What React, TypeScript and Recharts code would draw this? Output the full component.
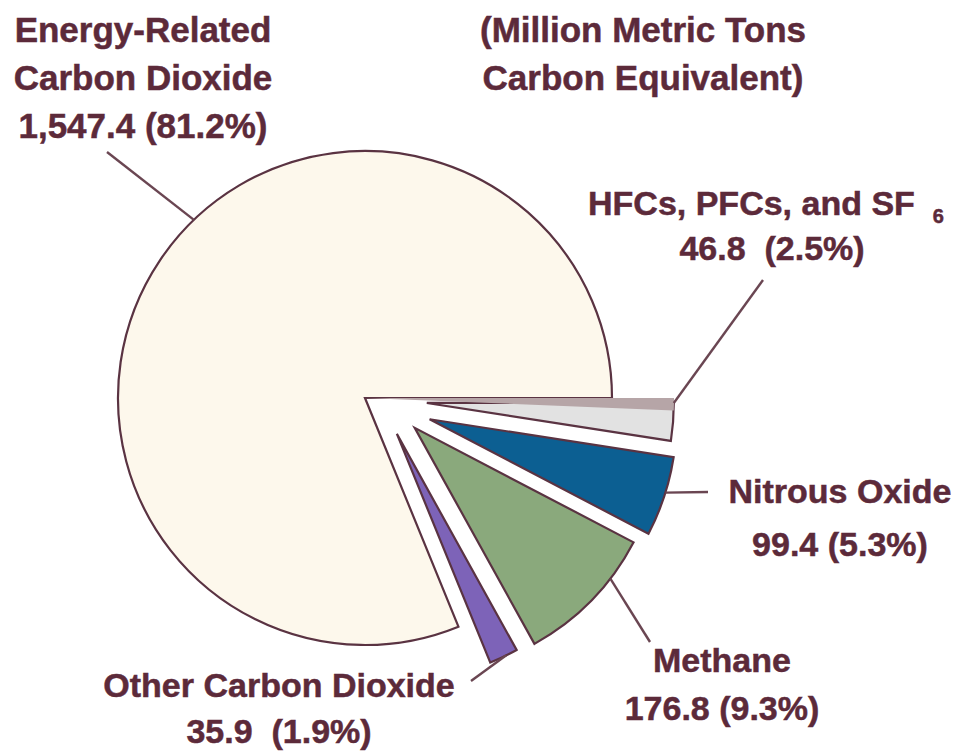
import React from 'react';
import { PieChart, Pie, Cell, Sector } from 'recharts';

// greenhouse gas emissions, million metric tons carbon equivalent
const categories = [
  'Energy-Related Carbon Dioxide',
  'Other Carbon Dioxide',
  'Methane',
  'Nitrous Oxide',
  'HFCs, PFCs, and SF6',
];
const values = [1547.4, 35.9, 176.8, 99.4, 46.8];
const valueLabels = ['1,547.4 (81.2%)', '35.9  (1.9%)', '176.8 (9.3%)', '99.4 (5.3%)', '46.8  (2.5%)'];

const data = categories.map((name, i) => ({ name, value: values[i] }));

const FILLS = ['#fdf8ec', '#7d63b8', '#8aa97c', '#0c5f92', '#e2e2e2'];
// how far each slice is pulled out, and in which direction (degrees, recharts convention)
const EXPLODE_DIST = [0, 48, 58, 68, 62];
const EXPLODE_DIR = [0, 311.6, 329, 341.8, 355.4];
const TEXT = '#5c2a3a';
const EDGE = '#5a3342';
const FONT = "'Liberation Sans', Arial, sans-serif";
const RAD = Math.PI / 180;

// label blocks: text anchor (centre x, first baseline), where the leader starts on the arc
// (fraction of the slice's sweep) and where it ends near the text
const LABELS = [
  { lines: ['Energy-Related', 'Carbon Dioxide'], x: 143, y: 42, size: 35, gap: 48, at: 0.458, lx: 107, ly: 152 },
  { lines: ['Other Carbon Dioxide'], x: 279, y: 697, size: 34, gap: 46, at: 0.6, lx: 471, ly: 681 },
  { lines: ['Methane'], x: 722, y: 672, size: 34, gap: 48, at: 0.7, lx: 650, ly: 642 },
  { lines: ['Nitrous Oxide'], x: 840, y: 503, size: 34, gap: 53, at: 0.55, lx: 708, ly: 492 },
  { lines: ['HFCs, PFCs, and SF'], x: 772, y: 215, size: 34, gap: 45, at: 1, lx: 763, ly: 280, sub: '6' },
];

const offsetOf = (p: any, i: number) => {
  const d = EXPLODE_DIST[i] || 0;
  const m = EXPLODE_DIR[i] * RAD;
  return { x: p.cx + d * Math.cos(m), y: p.cy - d * Math.sin(m) };
};

const indexOf = (p: any) => {
  const n = p.name ?? p.payload?.name;
  return Math.max(0, categories.indexOf(n));
};

const renderSlice = (p: any) => {
  const i = indexOf(p);
  const o = offsetOf(p, i);
  return (
    <g>
      <Sector
        cx={o.x}
        cy={o.y}
        innerRadius={0}
        outerRadius={p.outerRadius}
        startAngle={p.startAngle}
        endAngle={p.endAngle}
        fill={FILLS[i]}
        stroke={EDGE}
        strokeWidth={2.2}
      />
      {i === 4 && (
        <Sector
          cx={p.cx}
          cy={p.cy}
          innerRadius={0}
          outerRadius={p.outerRadius + EXPLODE_DIST[4]}
          startAngle={p.endAngle - 2.3}
          endAngle={p.endAngle}
          fill="#b6a5a7"
          stroke="none"
        />
      )}
    </g>
  );
};

const renderLabel = (p: any) => {
  const i = p.index;
  const L = LABELS[i];
  const o = offsetOf(p, i);
  const a = (p.startAngle + (p.endAngle - p.startAngle) * L.at) * RAD;
  const x1 = o.x + p.outerRadius * Math.cos(a);
  const y1 = o.y - p.outerRadius * Math.sin(a);
  const all = [...L.lines, valueLabels[i]];
  return (
    <g key={`lab-${i}`}>
      <line x1={x1} y1={y1} x2={L.lx} y2={L.ly} stroke="#6a4652" strokeWidth={2.4} />
      {all.map((t, k) => (
        <text
          key={k}
          x={L.x + (L.sub && k === 0 ? -6 : 0)}
          y={L.y + k * L.gap}
          textAnchor="middle"
          fill={TEXT}
          stroke={TEXT}
          strokeWidth={0.5}
          fontSize={L.size}
          fontWeight="bold"
          fontFamily={FONT}
          style={{ whiteSpace: 'pre' }}
        >
          {t}
          {k === 0 && L.sub ? (
            <tspan dx={18} dy={8} fontSize={20}>
              {L.sub}
            </tspan>
          ) : null}
        </text>
      ))}
    </g>
  );
};

export default function App() {
  return (
    <div style={{ position: 'absolute', left: 0, top: 0, width: 966, height: 753, background: '#fff' }}>
      <PieChart width={966} height={753}>
        <Pie
          data={data}
          dataKey="value"
          nameKey="name"
          cx={360}
          cy={393}
          outerRadius={247}
          startAngle={0}
          endAngle={360}
          shape={renderSlice}
          label={renderLabel}
          labelLine={false}
          stroke={EDGE}
          isAnimationActive={false}
        >
          {data.map((d, i) => (
            <Cell key={d.name} fill={FILLS[i]} />
          ))}
        </Pie>
      </PieChart>
      <svg width={966} height={753} style={{ position: 'absolute', left: 0, top: 0, pointerEvents: 'none' }}>
        {['(Million Metric Tons', 'Carbon Equivalent)'].map((t, k) => (
          <text
            key={t}
            x={643}
            y={42 + k * 48}
            textAnchor="middle"
            fill={TEXT}
            stroke={TEXT}
            strokeWidth={0.5}
            fontSize={35}
            fontWeight="bold"
            fontFamily={FONT}
          >
            {t}
          </text>
        ))}
      </svg>
    </div>
  );
}
